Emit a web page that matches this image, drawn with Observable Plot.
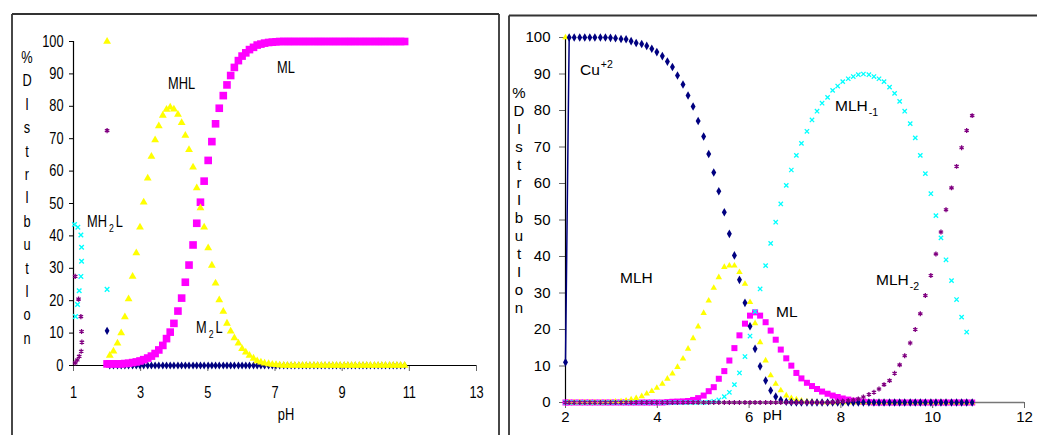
<!DOCTYPE html>
<html><head><meta charset="utf-8">
<script src="https://cdn.jsdelivr.net/npm/d3@7"></script>
<script src="https://cdn.jsdelivr.net/npm/@observablehq/plot@0.6"></script>
<style>
html,body{margin:0;padding:0;background:#fff;}
#wrap{position:relative;width:1037px;height:435px;overflow:hidden;background:#fff;}
#left,#right{position:absolute;top:0;}
#left{left:0;} #right{left:510px;}
#ann{position:absolute;left:0;top:0;pointer-events:none;}
</style></head><body>
<div id="wrap"><div id="left"></div><div id="right"></div><svg id="ann" width="1037" height="435"></svg></div>
<script>
// ---------- shared pH grid ----------
const pH = [2.00, 2.08, 2.19, 2.31, 2.42, 2.53, 2.64, 2.76, 2.87, 2.98,
 3.09, 3.21, 3.32, 3.43, 3.54, 3.66, 3.77, 3.88, 3.99, 4.11,
 4.22, 4.33, 4.44, 4.56, 4.67, 4.78, 4.89, 5.01, 5.12, 5.23,
 5.34, 5.46, 5.57, 5.68, 5.79, 5.91, 6.02, 6.13, 6.24, 6.36,
 6.47, 6.58, 6.69, 6.81, 6.92, 7.03, 7.14, 7.26, 7.37, 7.48,
 7.59, 7.71, 7.82, 7.93, 8.04, 8.16, 8.27, 8.38, 8.49, 8.61,
 8.72, 8.83, 8.94, 9.06, 9.17, 9.28, 9.39, 9.51, 9.62, 9.73,
 9.84, 9.96, 10.07, 10.18, 10.29, 10.41, 10.52, 10.63, 10.74, 10.86];

// ---------- left panel ----------
const leftMHL = [100, 3.1, 4.4, 6.9, 10, 15, 20.5, 27.5, 34.7, 42.7,
 50.4, 57.8, 64.5, 69.6, 73.9, 77.2, 79, 79.7, 79.1, 77.5,
 74.9, 71, 66.6, 61.2, 54.8, 48.6, 42.7, 36.3, 30.9, 25.4,
 20.2, 16.7, 13, 10.6, 8.5, 6.9, 5.2, 4.1, 3.1, 2.2,
 1.4, 1.0, 0.7, 0.5, 0.3, 0.2, 0.1, 0, 0, 0,
 0, 0, 0, 0, 0, 0, 0, 0, 0, 0,
 0, 0, 0, 0, 0, 0, 0, 0, 0, 0,
 0, 0, 0, 0, 0, 0, 0, 0, 0, 0];
const leftML = [0.5, 0.5, 0.5, 0.5, 0.5, 0.6, 0.7, 0.9, 1.1, 1.4,
 1.8, 2.3, 2.9, 3.7, 4.8, 6.2, 8.3, 10.3, 13, 16.8,
 20.8, 25.7, 31, 37.2, 43.9, 50.4, 56.9, 63.3, 69.1, 74.6,
 79.4, 83.3, 86.6, 89.5, 92, 94.1, 95.5, 96.5, 97.5, 98.2,
 98.9, 99.2, 99.5, 99.7, 99.8, 99.9, 100, 100, 100, 100,
 100, 100, 100, 100, 100, 100, 100, 100, 100, 100,
 100, 100, 100, 100, 100, 100, 100, 100, 100, 100,
 100, 100, 100, 100, 100, 100, 100, 100, 100, 100];
const leftM2L = [10.7, 0, 0, 0, 0, 0, 0, 0, 0, 0,
 0, 0, 0, 0, 0, 0, 0, 0, 0, 0,
 0, 0, 0, 0, 0, 0, 0, 0, 0, 0,
 0, 0, 0, 0, 0, 0, 0, 0, 0, 0,
 0, 0, 0, 0, 0, 0, 0, 0, 0, 0,
 0, 0, 0, 0, 0, 0, 0, 0, 0, 0,
 0, 0, 0, 0, 0, 0, 0, 0, 0, 0,
 0, 0, 0, 0, 0, 0, 0, 0, 0, 0];
const leftMH2L_pH  = [1.03, 1.13, 1.22, 1.24, 1.24, 1.22, 1.17, 1.12, 1.06, 2.00];
const leftMH2L_pct = [43.5, 42.7, 40.3, 36.5, 32.2, 27.5, 23.1, 18.8, 15.1, 23.5];
const leftMH3L_pH  = [1.05, 1.15, 1.22, 1.24, 1.25, 1.23, 1.17, 1.11, 1.05, 2.00];
const leftMH3L_pct = [27.5, 20.5, 15.1, 10.5, 7.2, 4.4, 2.8, 1.7, 0.8, 72.5];
const leftXTicks = [1, 3, 5, 7, 9, 11, 13];

// ---------- right panel ----------
const rightCu = [11, 100, 100, 100, 100, 100, 100, 100, 100, 99.9,
 99.8, 99.6, 99.5, 99.0, 98.5, 98.2, 97.7, 96.9, 96.0, 94.9,
 93.4, 91.9, 89.6, 87.1, 84.1, 81.1, 77.1, 72.9, 68.1, 63,
 57.9, 52.1, 46.2, 40.3, 33.6, 27.3, 20.9, 14.7, 9.9, 6.0,
 3.3, 1.6, 0.7, 0.2, 0.1, 0, 0, 0, 0, 0,
 0, 0, 0, 0, 0, 0, 0, 0, 0, 0,
 0, 0, 0, 0, 0, 0, 0, 0, 0, 0,
 0, 0, 0, 0, 0, 0, 0, 0, 0, 0];
const rightMLH = [100, 0, 0, 0, 0, 0, 0, 0, 0, 0.1,
 0.2, 0.3, 0.5, 0.8, 1.2, 1.7, 2.4, 3.1, 4.0, 5.1,
 6.5, 7.9, 9.7, 12, 14.7, 17.6, 20.8, 24.5, 27.9, 31.4,
 34.3, 37.1, 37.5, 37.5, 35.7, 32.5, 27.5, 21.7, 16.5, 11.5,
 7.4, 5.1, 3.3, 1.9, 1.2, 0.8, 0.5, 0.3, 0.2, 0.1,
 0, 0, 0, 0, 0, 0, 0, 0, 0, 0,
 0, 0, 0, 0, 0, 0, 0, 0, 0, 0,
 0, 0, 0, 0, 0, 0, 0, 0, 0, 0];
const rightML = [0, 0, 0, 0, 0, 0, 0, 0, 0, 0,
 0, 0, 0, 0, 0, 0, 0, 0, 0, 0,
 0.1, 0.2, 0.25, 0.3, 0.4, 0.7, 1.2, 1.9, 3.1, 4.2,
 6.5, 8.6, 11.5, 14.9, 18.4, 21.6, 23.8, 24.7, 23.8, 22,
 19.7, 17.2, 14.5, 12.1, 10.1, 8.1, 6.6, 5.4, 4.5, 3.7,
 3.0, 2.4, 1.9, 1.5, 1.1, 0.8, 0.5, 0.3, 0.2, 0.1,
 0, 0, 0, 0, 0, 0, 0, 0, 0, 0,
 0, 0, 0, 0, 0, 0, 0, 0, 0, 0];
const rightMLH1 = [0, 0, 0, 0, 0, 0, 0, 0, 0, 0,
 0, 0, 0, 0, 0, 0, 0, 0, 0, 0,
 0, 0, 0, 0, 0, 0, 0, 0, 0.1, 0.3,
 0.7, 1.6, 2.8, 4.9, 8.1, 12.6, 18.2, 24.9, 31.1, 37.5,
 43.6, 49.4, 54.4, 59.5, 63.7, 67.7, 71, 74.3, 77.4, 79.8,
 82, 83.6, 85.5, 86.7, 87.9, 88.7, 89.3, 89.8, 90, 89.8,
 89.3, 88.7, 87.9, 86.4, 84.7, 82.5, 79.8, 76.4, 72.5, 67.7,
 62.7, 57.2, 51.2, 45.1, 39.1, 33.4, 28.2, 23.4, 19.3, null];
const rightMLH2 = [0, 0, 0, 0, 0, 0, 0, 0, 0, 0,
 0, 0, 0, 0, 0, 0, 0, 0, 0, 0,
 0, 0, 0, 0, 0, 0, 0, 0, 0, 0,
 0, 0, 0, 0, 0, 0, 0, 0, 0, 0,
 0, 0, 0, 0, 0, 0, 0, 0, 0, 0,
 0, 0, 0.1, 0.2, 0.3, 0.5, 0.7, 1.0, 1.5, 2.2,
 2.8, 3.7, 4.9, 6.0, 8.0, 10.3, 12.8, 16.3, 20, 24.3,
 29.3, 34.8, 40.7, 46.7, 52.8, 58.8, 64.7, 69.8, 74.5, 78.6];
const rightXTicks = [2, 4, 6, 8, 10, 12];
const yTicks = [0, 10, 20, 30, 40, 50, 60, 70, 80, 90, 100];
const yLetters = ["%", "D", "I", "s", "t", "r", "I", "b", "u", "t", "I", "o", "n"];

// ---------- helpers ----------
const rows = (xs, ys) => xs.map((x, i) => ({pH: x, pct: ys[i]})).filter(d => d.pct != null && d.pct !== undefined);
const narrow = '"Liberation Sans Narrow","Arial Narrow","Liberation Sans",Arial,sans-serif';
const wide = '"Liberation Sans",Arial,sans-serif';
const C = {navy: "#000080", yellow: "#ffff00", magenta: "#ff00ff", cyan: "#00ffff", purple: "#800080"};

// squeeze text horizontally (the left panel uses a narrow face)
function condense(nodes, f) {
  nodes.forEach(t => {
    const w = t.getComputedTextLength();
    if (w > 0) { t.setAttribute("textLength", (w * f).toFixed(2)); t.setAttribute("lengthAdjust", "spacingAndGlyphs"); }
  });
}

// ---------- left chart ----------
const left = Plot.plot({
  width: 500, height: 435,
  marginLeft: 73, marginRight: 24, marginTop: 41, marginBottom: 70,
  x: {domain: [leftXTicks[0], leftXTicks[leftXTicks.length - 1]]},
  y: {domain: [yTicks[0], yTicks[yTicks.length - 1]]},
  style: {fontFamily: narrow, fontSize: "16px", background: "transparent", color: "#000", overflow: "visible"},
  marks: [
    Plot.axisY({ticks: yTicks, tickSize: 4, tickPadding: 6, label: null, tickFormat: d => String(d), stroke: "#000"}),
    Plot.axisX({ticks: leftXTicks, tickSize: 6, tickPadding: 15, label: null, tickFormat: d => String(d), stroke: "#666"}),
    Plot.ruleX([leftXTicks[0]], {stroke: "#000", strokeWidth: 1.2}),
    Plot.ruleY([yTicks[0]], {stroke: "#000", strokeWidth: 1.2}),
    Plot.dot(rows(pH, leftM2L), {x: "pH", y: "pct", symbol: "diamond", fill: C.navy, r: 2.5}),
    Plot.dot(rows(pH, leftML), {x: "pH", y: "pct", symbol: "square", fill: C.magenta, r: 4.3}),
    Plot.dot(rows(pH, leftMHL), {x: "pH", y: "pct", symbol: "triangle", fill: C.yellow, r: 2.9}),
    Plot.dot(rows(leftMH2L_pH, leftMH2L_pct), {x: "pH", y: "pct", symbol: "times", stroke: C.cyan, strokeWidth: 1.4, r: 2.2}),
    Plot.dot(rows(leftMH3L_pH, leftMH3L_pct), {x: "pH", y: "pct", symbol: "asterisk", stroke: C.purple, strokeWidth: 1.3, r: 2.4})
  ]
});
document.getElementById("left").appendChild(left);
condense(left.querySelectorAll("text"), 0.8);

// ---------- right chart ----------
const cuRows = rows(pH, rightCu);
const right = Plot.plot({
  width: 527, height: 435,
  marginLeft: 55, marginRight: 13, marginTop: 37, marginBottom: 33,
  x: {domain: [rightXTicks[0], rightXTicks[rightXTicks.length - 1]]},
  y: {domain: [yTicks[0], yTicks[yTicks.length - 1]]},
  style: {fontFamily: wide, fontSize: "15px", background: "transparent", color: "#000", overflow: "visible"},
  marks: [
    Plot.axisY({ticks: yTicks, tickSize: 6, tickPadding: 9, label: null, tickFormat: d => String(d), stroke: "#666"}),
    Plot.axisX({ticks: rightXTicks, tickSize: 6, tickPadding: 3, label: null, tickFormat: d => String(d), stroke: "#666"}),
    Plot.ruleY([yTicks[0]], {stroke: "#777", strokeWidth: 1.5}),
    Plot.ruleX([rightXTicks[0]], {stroke: "#000", strokeWidth: 1.2}),
    Plot.line(cuRows.slice(0, 2), {x: "pH", y: "pct", stroke: C.navy, strokeWidth: 1.5}),
    Plot.dot(rows(pH, rightML), {x: "pH", y: "pct", symbol: "square", fill: C.magenta, r: 3.4}),
    Plot.dot(rows(pH, rightMLH), {x: "pH", y: "pct", symbol: "triangle", fill: C.yellow, r: 2.4}),
    Plot.dot(cuRows, {x: "pH", y: "pct", symbol: "diamond", fill: C.navy, r: 2.6}),
    Plot.dot(rows(pH, rightMLH1), {x: "pH", y: "pct", symbol: "times", stroke: C.cyan, strokeWidth: 1.3, r: 2.1}),
    Plot.dot(rows(pH, rightMLH2), {x: "pH", y: "pct", symbol: "asterisk", stroke: C.purple, strokeWidth: 1.3, r: 2.3})
  ]
});
document.getElementById("right").appendChild(right);

// ---------- overlay: frames and text ----------
const ann = d3.select("#ann");
const frames = [[12, 14, 499, 14], [12, 14, 12, 440], [499, 14, 499, 440], [509, 15.5, 1040, 15.5], [509, 15.5, 509, 440]];
ann.selectAll("line.f").data(frames).join("line").attr("class", "f")
  .attr("x1", d => d[0]).attr("y1", d => d[1]).attr("x2", d => d[2]).attr("y2", d => d[3])
  .attr("stroke", "#333").attr("stroke-width", 1.8);

const leftSpans = [];
function label(x, y, parts, font, size, anchor, gapPx) {
  const t = ann.append("text").attr("x", x).attr("y", y).attr("font-family", font)
    .attr("font-size", size).attr("fill", "#000").attr("text-anchor", anchor || "start");
  let shift = 0, prevSmall = false;
  const spans = [];
  for (const [s, kind] of parts) {
    let target = 0, fs = size;
    if (kind === "sub") { target = size * 0.3; fs = size * 0.68; }
    if (kind === "sup") { target = -size * 0.42; fs = size * 0.68; }
    const small = kind === "sub" || kind === "sup";
    const gap = (small || prevSmall) ? (gapPx || 1) : 0;
    spans.push(t.append("tspan").attr("dx", gap).attr("dy", target - shift).attr("font-size", fs).text(s).node());
    shift = target; prevSmall = small;
  }
  return spans;
}
// left panel texts (narrow face: each piece squeezed on its own)
leftSpans.push(...label(168, 89, [["MHL"]], narrow, 16));
leftSpans.push(...label(277, 73, [["ML"]], narrow, 16));
leftSpans.push(...label(87, 227, [["MH"], ["2", "sub"], ["L"]], narrow, 16, "start", 2));
leftSpans.push(...label(196, 333, [["M"], ["2", "sub"], ["L"]], narrow, 16, "start", 2));
leftSpans.push(...label(286, 420, [["pH"]], narrow, 16, "middle"));
yLetters.forEach((c, i) => leftSpans.push(...label(27, 63 + i * 23.4, [[c]], narrow, 16, "middle")));
condense(leftSpans, 0.8);
// right panel texts
label(580, 75, [["Cu"], ["+2", "sup"]], wide, 15.5);
label(620, 283, [["MLH"]], wide, 15.5);
label(776, 317, [["ML"]], wide, 15.5);
label(835, 111, [["MLH"], ["-1", "sub"]], wide, 15.5);
label(876, 285, [["MLH"], ["-2", "sub"]], wide, 15.5);
label(763, 420, [["pH"]], wide, 15);
yLetters.forEach((c, i) => label(519, 98 + i * 17.9, [[c]], wide, 15, "middle"));
</script>
</body></html>
